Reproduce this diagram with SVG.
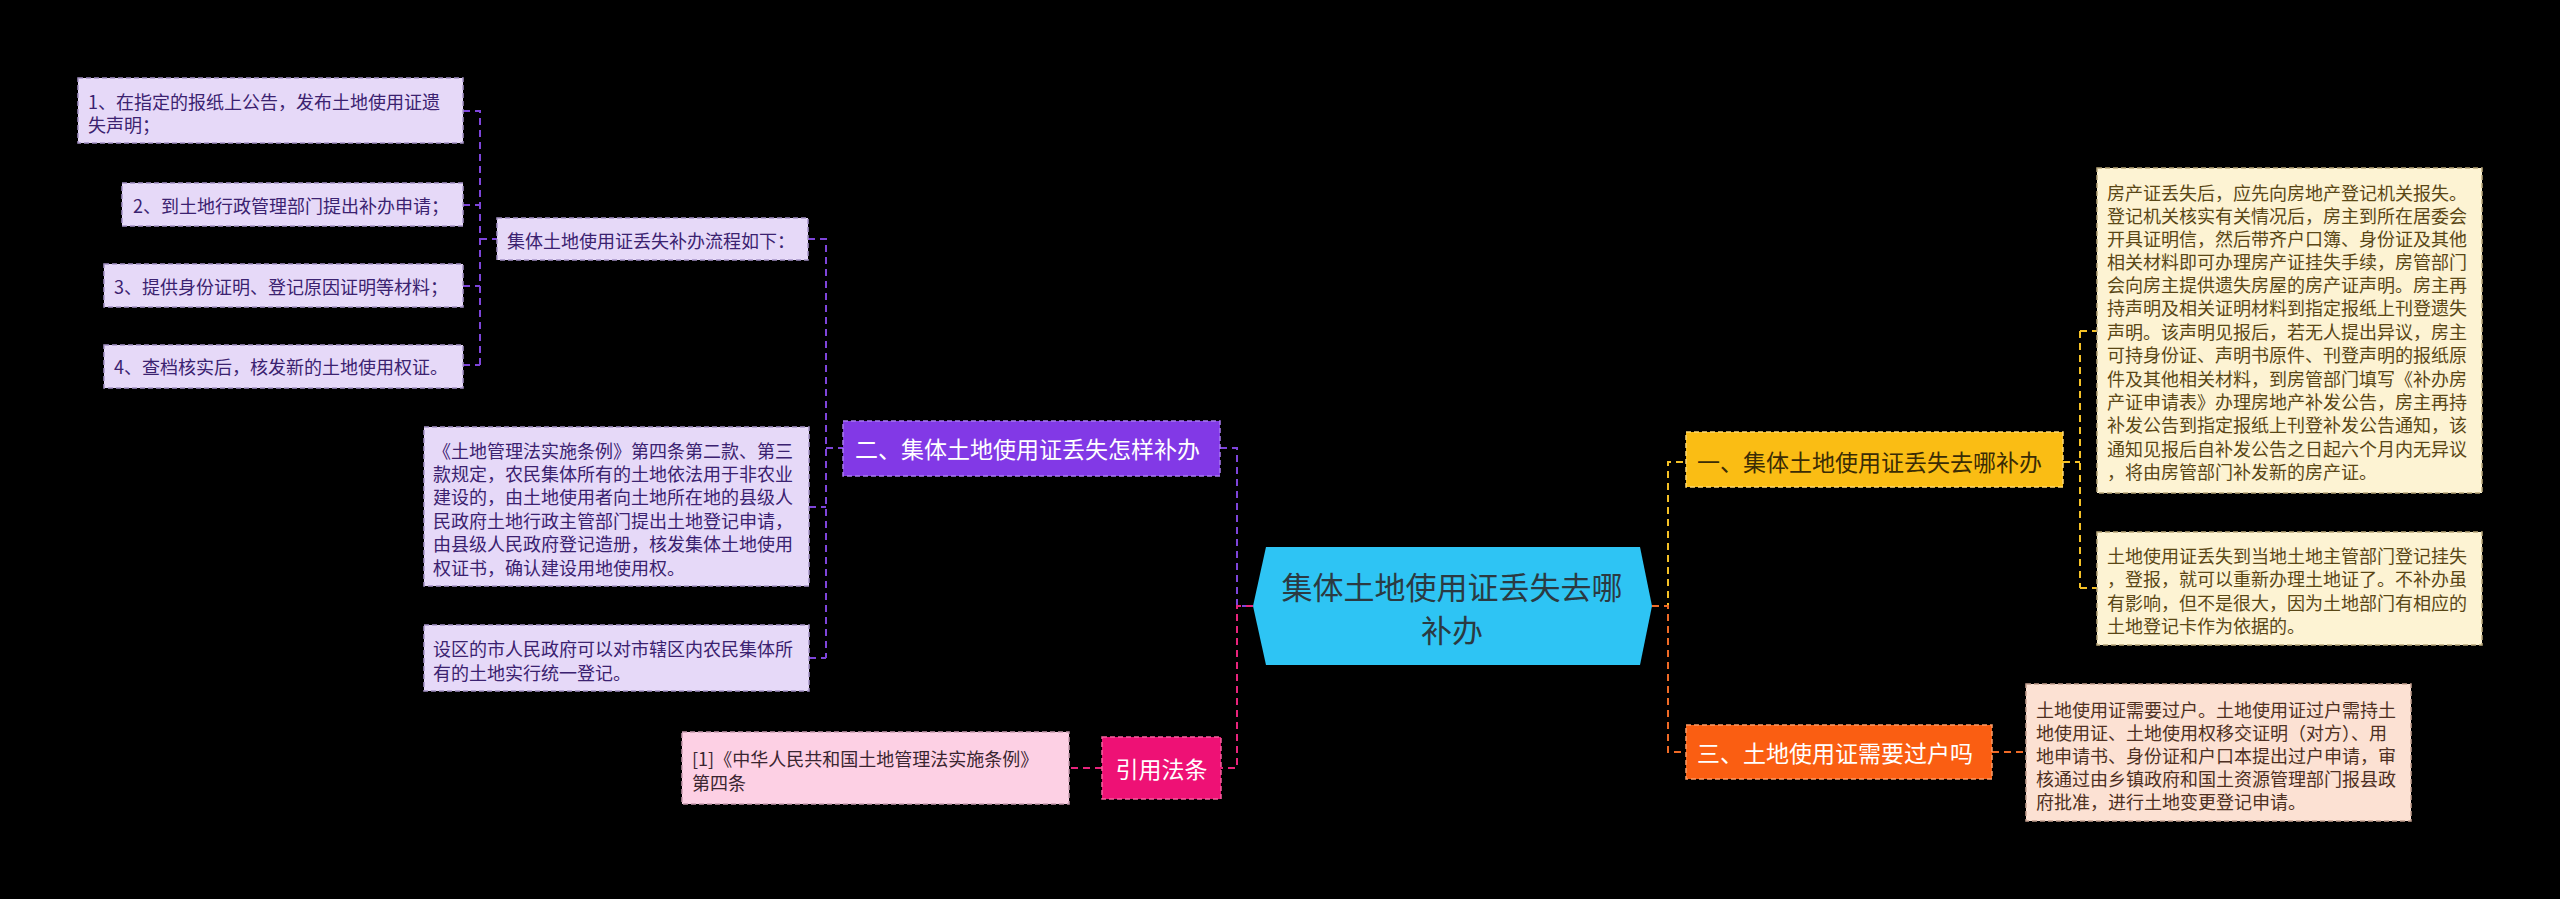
<svg xmlns="http://www.w3.org/2000/svg" width="2560" height="899" viewBox="0 0 2560 899">
<style>
text{font-family:"Noto Sans CJK SC","Noto Sans",sans-serif;dominant-baseline:central}
.t18{font-size:18px}
.t23{font-size:23px}
.lav{fill:#E6D9F8;stroke:#A593C6;stroke-width:1.5;stroke-dasharray:5 3}
.lavt{fill:#3B2270}
.cream{fill:#FDF3D3;stroke:#B8A77A;stroke-width:1.5;stroke-dasharray:5 3}
.creamt{fill:#5A4716}
.peach{fill:#FCE1D3;stroke:#C4A090;stroke-width:1.5;stroke-dasharray:5 3}
.peacht{fill:#4E3022}
.pinkl{fill:#FDD0E4;stroke:#C69AAE;stroke-width:1.5;stroke-dasharray:5 3}
.pinklt{fill:#3A2530}
.c{fill:none;stroke-width:2;stroke-dasharray:7 5}
.cp{stroke:#7E45DA}
.cy{stroke:#F5C126}
.co{stroke:#EF6A26}
.ck{stroke:#E8247C}
</style>
<rect width="2560" height="899" fill="#000"/>
<g id="connectors">
<path class="c cp" d="M463 111H480V365M463 205H480M463 286H480M463 365H480M480 239H497"/>
<path class="c cp" d="M808 239H826V658M809 507H826M809 658H826M826 448H843"/>
<path class="c cp" d="M1220 448H1237V606H1253"/>
<path class="c ck" d="M1253 606H1237V768H1221M1102 768H1069"/>
<path class="c cy" d="M1652 606H1668V462H1686M2063 462H2080M2080 331V588M2080 331H2097M2080 588H2097"/>
<path class="c co" d="M1652 606H1668V752H1686M1992 752H2026"/>
</g>
<g id="center">
<polygon points="1253,606 1266,547 1640,547 1652,606 1640,665 1266,665" fill="#2EC4F4"/>
<text x="1452" y="585" font-size="31" fill="#2B3A42" text-anchor="middle">集体土地使用证丢失去哪</text>
<text x="1452" y="628" font-size="31" fill="#2B3A42" text-anchor="middle">补办</text>
</g>
<g id="n-left-1">
<rect class="lav" x="78" y="78" width="385" height="65"/>
<text class="t18 lavt" x="88" y="101">1、在指定的报纸上公告，发布土地使用证遗</text>
<text class="t18 lavt" x="88" y="124">失声明；</text>
</g>
<g id="n-left-2">
<rect class="lav" x="122" y="183" width="341" height="43"/>
<text class="t18 lavt" x="133" y="205">2、到土地行政管理部门提出补办申请；</text>
</g>
<g id="n-left-3">
<rect class="lav" x="104" y="264" width="359" height="43"/>
<text class="t18 lavt" x="114" y="286">3、提供身份证明、登记原因证明等材料；</text>
</g>
<g id="n-left-4">
<rect class="lav" x="104" y="345" width="359" height="43"/>
<text class="t18 lavt" x="114" y="366">4、查档核实后，核发新的土地使用权证。</text>
</g>
<g id="n-flow">
<rect class="lav" x="497" y="218" width="311" height="42"/>
<text class="t18 lavt" x="507" y="240">集体土地使用证丢失补办流程如下：</text>
</g>
<g id="n-law">
<rect class="lav" x="424" y="427" width="385" height="159"/>
<text class="t18 lavt" x="433" y="450">《土地管理法实施条例》第四条第二款、第三</text>
<text class="t18 lavt" x="433" y="473">款规定，农民集体所有的土地依法用于非农业</text>
<text class="t18 lavt" x="433" y="496">建设的，由土地使用者向土地所在地的县级人</text>
<text class="t18 lavt" x="433" y="520">民政府土地行政主管部门提出土地登记申请，</text>
<text class="t18 lavt" x="433" y="543">由县级人民政府登记造册，核发集体土地使用</text>
<text class="t18 lavt" x="433" y="567">权证书，确认建设用地使用权。</text>
</g>
<g id="n-city">
<rect class="lav" x="424" y="625" width="385" height="66"/>
<text class="t18 lavt" x="433" y="648">设区的市人民政府可以对市辖区内农民集体所</text>
<text class="t18 lavt" x="433" y="672">有的土地实行统一登记。</text>
</g>
<g id="n-two">
<rect x="843" y="421" width="377" height="55" fill="#8239E6" stroke="#A87BF0" stroke-width="1.5" stroke-dasharray="5 3"/>
<text class="t23" x="855" y="448" fill="#fff">二、集体土地使用证丢失怎样补办</text>
</g>
<g id="n-cite">
<rect x="1102" y="737" width="119" height="62" fill="#EE1175" stroke="#F5609F" stroke-width="1.5" stroke-dasharray="5 3"/>
<text class="t23" x="1161.5" y="768" fill="#fff" text-anchor="middle">引用法条</text>
</g>
<g id="n-cite-1">
<rect class="pinkl" x="682" y="732" width="387" height="72"/>
<text class="t18 pinklt" x="692" y="758">[1]《中华人民共和国土地管理法实施条例》</text>
<text class="t18 pinklt" x="692" y="782">第四条</text>
</g>
<g id="n-one">
<rect x="1686" y="432" width="377" height="55" fill="#FABD14" stroke="#FDD770" stroke-width="1.5" stroke-dasharray="5 3"/>
<text class="t23" x="1697" y="461" fill="#3A2C05">一、集体土地使用证丢失去哪补办</text>
</g>
<g id="n-one-1">
<rect class="cream" x="2097" y="168" width="385" height="325"/>
<text class="t18 creamt" x="2107" y="192">房产证丢失后，应先向房地产登记机关报失。</text>
<text class="t18 creamt" x="2107" y="215">登记机关核实有关情况后，房主到所在居委会</text>
<text class="t18 creamt" x="2107" y="238">开具证明信，然后带齐户口簿、身份证及其他</text>
<text class="t18 creamt" x="2107" y="261">相关材料即可办理房产证挂失手续，房管部门</text>
<text class="t18 creamt" x="2107" y="284">会向房主提供遗失房屋的房产证声明。房主再</text>
<text class="t18 creamt" x="2107" y="307">持声明及相关证明材料到指定报纸上刊登遗失</text>
<text class="t18 creamt" x="2107" y="331">声明。该声明见报后，若无人提出异议，房主</text>
<text class="t18 creamt" x="2107" y="354">可持身份证、声明书原件、刊登声明的报纸原</text>
<text class="t18 creamt" x="2107" y="378">件及其他相关材料，到房管部门填写《补办房</text>
<text class="t18 creamt" x="2107" y="401">产证申请表》办理房地产补发公告，房主再持</text>
<text class="t18 creamt" x="2107" y="424">补发公告到指定报纸上刊登补发公告通知，该</text>
<text class="t18 creamt" x="2107" y="448">通知见报后自补发公告之日起六个月内无异议</text>
<text class="t18 creamt" x="2107" y="471">，将由房管部门补发新的房产证。</text>
</g>
<g id="n-one-2">
<rect class="cream" x="2097" y="532" width="385" height="113"/>
<text class="t18 creamt" x="2107" y="555">土地使用证丢失到当地土地主管部门登记挂失</text>
<text class="t18 creamt" x="2107" y="578">，登报，就可以重新办理土地证了。不补办虽</text>
<text class="t18 creamt" x="2107" y="602">有影响，但不是很大，因为土地部门有相应的</text>
<text class="t18 creamt" x="2107" y="625">土地登记卡作为依据的。</text>
</g>
<g id="n-three">
<rect x="1686" y="725" width="306" height="54" fill="#FA5E12" stroke="#FC9A66" stroke-width="1.5" stroke-dasharray="5 3"/>
<text class="t23" x="1697" y="752" fill="#fff">三、土地使用证需要过户吗</text>
</g>
<g id="n-three-1">
<rect class="peach" x="2026" y="684" width="385" height="137"/>
<text class="t18 peacht" x="2036" y="709">土地使用证需要过户。土地使用证过户需持土</text>
<text class="t18 peacht" x="2036" y="732">地使用证、土地使用权移交证明（对方）、用</text>
<text class="t18 peacht" x="2036" y="755">地申请书、身份证和户口本提出过户申请，审</text>
<text class="t18 peacht" x="2036" y="778">核通过由乡镇政府和国土资源管理部门报县政</text>
<text class="t18 peacht" x="2036" y="801">府批准，进行土地变更登记申请。</text>
</g>
</svg>
